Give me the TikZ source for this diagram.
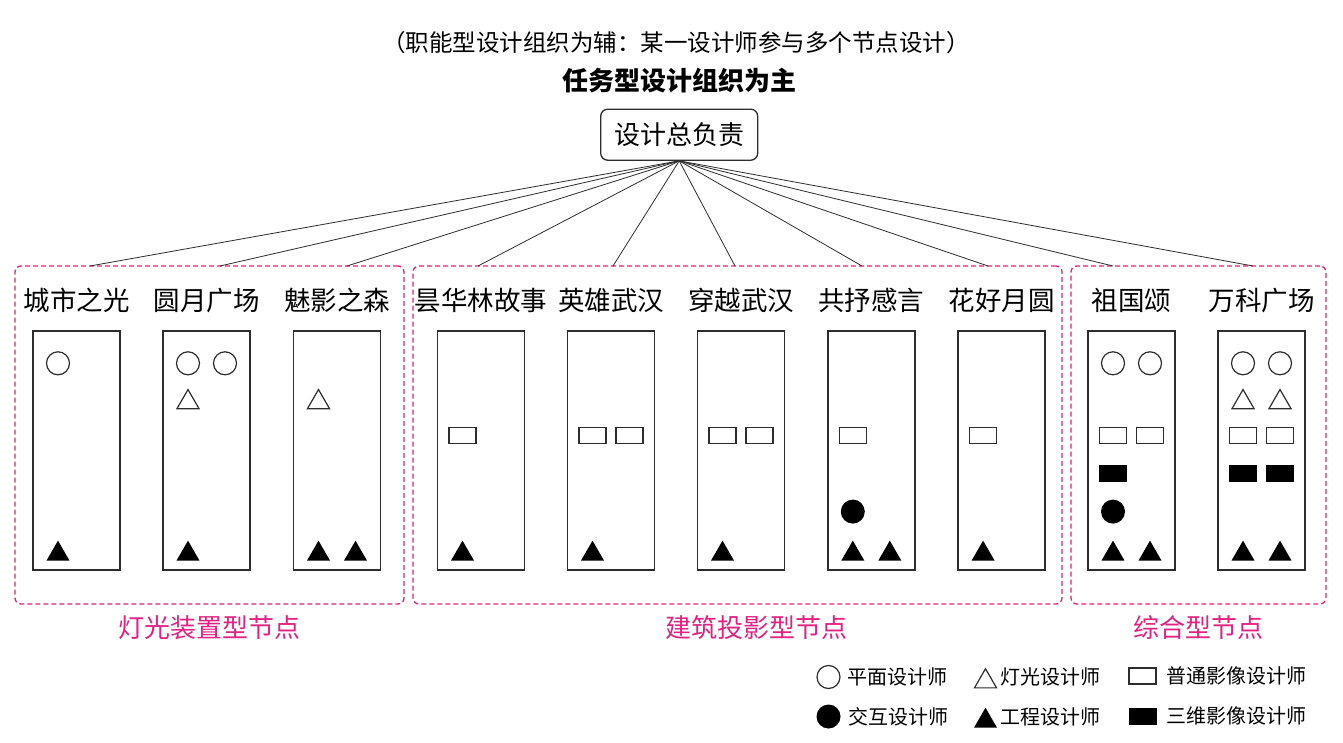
\documentclass[tikz,border=0pt]{standalone}
\usepackage{fontspec}
\setmainfont{Noto Sans CJK SC}
\usetikzlibrary{positioning, calc, shapes.geometric}
\definecolor{rosa}{RGB}{228,32,128}
\definecolor{rahmen}{RGB}{45,45,45}

% Zeichen in einer Spalte: Form, Spalte, Platz (1/2), Abstand von oben
\newcommand{\zeichen}[4]{\node[#1] (#2#1#3) at ($(#2.north)+({(#3-1.5)*37},#4)$) {};}

\begin{document}
\begin{tikzpicture}[x=1pt, y=-1pt,
		spalte/.style={draw=rahmen, line width=1.4pt, minimum width=87pt, minimum height=239pt, inner sep=0pt},
		gruppe/.style={draw=rosa, dash pattern=on 5pt off 3pt, line width=1.3pt, rounded corners=6pt, inner sep=0pt},
		leitung/.style={draw=rahmen, line width=1.3pt, rounded corners=7pt, minimum width=157pt, minimum height=51pt, font=\fontsize{26}{30}\selectfont},
		titel/.style={inner sep=0pt, font=\fontsize{26.5}{30}\selectfont},
		rosatext/.style={inner sep=0pt, text=rosa, font=\fontsize{26}{30}\selectfont},
		legende/.style={inner sep=0pt, font=\fontsize{20}{24}\selectfont},
		linie/.style={line width=0.8pt, rahmen},
		% Zeichen
		kreis/.style={circle, draw=rahmen, line width=1.2pt, minimum size=23pt, inner sep=0pt, outer sep=0pt},
		vkreis/.style={circle, fill=black, minimum size=24pt, inner sep=0pt, outer sep=0pt},
		dreieck/.style={regular polygon, regular polygon sides=3, draw=rahmen, line width=1.2pt, minimum size=25.5pt, inner sep=0pt, outer sep=0pt},
		vdreieck/.style={regular polygon, regular polygon sides=3, fill=black, minimum size=26.5pt, inner sep=0pt, outer sep=0pt},
		rechteck/.style={rectangle, draw=rahmen, line width=1.2pt, minimum width=27pt, minimum height=16pt, inner sep=0pt, outer sep=0pt},
		vrechteck/.style={rectangle, fill=black, minimum width=28pt, minimum height=17pt, inner sep=0pt, outer sep=0pt}]
	\useasboundingbox (0,0) rectangle (1343,743);
	% Ueberschriften
	\node[font=\fontsize{23.5}{28}\selectfont, inner sep=0pt] (unter) at (676,42.5) {（职能型设计组织为辅：某一设计师参与多个节点设计）};
	\node[font=\fontsize{26}{30}\selectfont\bfseries, inner sep=0pt] (haupt) at (679.5,81) {任务型设计组织为主};
	\node[leitung] (lead) at (679.2,134.7) {设计总负责};
	% Gruppen
	\node[gruppe, minimum width=389pt, minimum height=338pt] (gA) at (209.5,435) {};
	\node[gruppe, minimum width=649pt, minimum height=338pt] (gB) at (737.5,435) {};
	\node[gruppe, minimum width=255pt, minimum height=338pt] (gC) at (1198.5,435) {};
	\node[rosatext, below=11pt of gA] (lA) {灯光装置型节点};
	\node[rosatext, below=11pt of gB, xshift=19pt] (lB) {建筑投影型节点};
	\node[rosatext, below=11pt of gC] (lC) {综合型节点};
	% Spalten mit Namen
	\foreach \i/\x/\titeltext in {1/76.5/城市之光, 2/206.5/圆月广场, 3/337/魅影之森, 4/481/昙华林故事, 5/611/英雄武汉,
		6/741/穿越武汉, 7/871.3/共抒感言, 8/1001.6/花好月圆, 9/1131.5/祖国颂, 10/1261.5/万科广场} {
		\node[spalte] (s\i) at (\x,450.5) {};
		\node[titel, above=17pt of s\i] (t\i) {\titeltext};
	}
	% Verbindungen
	\foreach \i/\x in {1/90, 2/220, 3/347, 4/478, 5/613, 6/735, 7/862, 8/988, 9/1113, 10/1253} {
		\coordinate (e\i) at (\x,266);
		\draw[linie] (lead.south) -- (e\i);
	}
	% Zeichen zeilenweise
	\foreach \s/\p in {s1/1, s2/1, s2/2, s9/1, s9/2, s10/1, s10/2} \zeichen{kreis}{\s}{\p}{33};
	\foreach \s/\p in {s2/1, s3/1, s10/1, s10/2} \zeichen{dreieck}{\s}{\p}{72};
	\foreach \s/\p in {s4/1, s5/1, s5/2, s6/1, s6/2, s7/1, s8/1, s9/1, s9/2, s10/1, s10/2} \zeichen{rechteck}{\s}{\p}{105.5};
	\foreach \s/\p in {s9/1, s10/1, s10/2} \zeichen{vrechteck}{\s}{\p}{143};
	\foreach \s/\p in {s7/1, s9/1} \zeichen{vkreis}{\s}{\p}{181.3};
	\foreach \s/\p in {s1/1, s2/1, s3/1, s3/2, s4/1, s5/1, s6/1, s7/1, s7/2, s8/1, s9/1, s9/2, s10/1, s10/2} \zeichen{vdreieck}{\s}{\p}{223.6};
	% Legende
	\node[kreis] (lk) at (828.5,677) {};
	\node[legende, right=7.5pt of lk] (lkt) {平面设计师};
	\node[dreieck] (ld) at (985.5,681.5) {};
	\node[legende, right=7.5pt of ld, yshift=4.5pt] (ldt) {灯光设计师};
	\node[rechteck] (lr) at (1142.5,676) {};
	\node[legende, right=10pt of lr] (lrt) {普通影像设计师};
	\node[vkreis] (lvk) at (828.5,716.5) {};
	\node[legende, right=7.5pt of lvk] (lvkt) {交互设计师};
	\node[vdreieck] (lvd) at (985.5,721) {};
	\node[legende, right=7.5pt of lvd, yshift=4.5pt] (lvdt) {工程设计师};
	\node[vrechteck] (lvr) at (1142.5,716) {};
	\node[legende, right=10pt of lvr] (lvrt) {三维影像设计师};
\end{tikzpicture}
\end{document}
